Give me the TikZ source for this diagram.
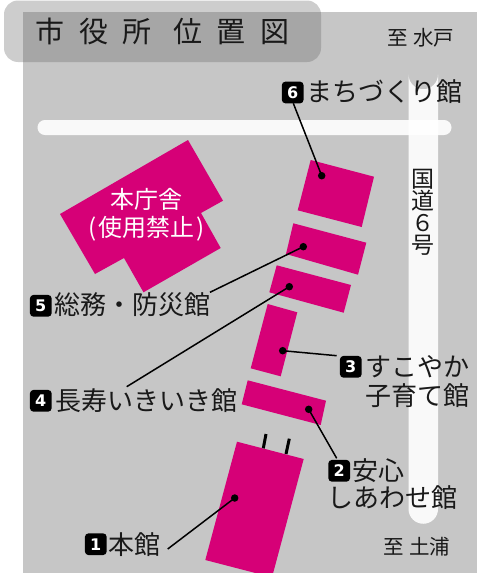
\documentclass[tikz,border=0pt]{standalone}
\usepackage{fontspec}
\newfontfamily\jpf{Noto Sans CJK JP}
\newfontfamily\numf{DejaVu Sans}[BoldFont={DejaVu Sans Bold}]
\definecolor{pinkb}{HTML}{D60077}
\definecolor{bgg}{HTML}{C6C6C6}
\tikzset{
  building/.style={fill=pinkb,draw=none},
  road/.style={fill=white,fill opacity=.9,draw=none},
  leader/.style={draw=black,line width=1.5pt},
  dot/.style={circle,fill=black,inner sep=0pt,minimum size=7.5pt},
  badge/.style={fill=black,text=white,rounded corners=3.5pt,minimum size=21.7pt,inner sep=0pt,font=\numf\bfseries\fontsize{16}{16}\selectfont},
  lab/.style={inner sep=0pt,text=black!90,anchor=west,font=\jpf\fontsize{26}{29}\selectfont},
  small/.style={inner sep=0pt,text=black!90,font=\jpf\fontsize{20.5}{20.5}\selectfont}
}
\begin{document}
\begin{tikzpicture}[x=1pt,y=-1pt]
\useasboundingbox (0,0) rectangle (477,573);
\clip (0,0) rectangle (477,573);
\fill[bgg] (22.5,12) rectangle (477,573);
% roads
\fill[road] (408.5,74.5) arc[start angle=180,end angle=0,radius=14.75] -- (438,509) arc[start angle=0,end angle=180,radius=14.75] -- cycle;
\fill[road,rounded corners=7.4pt] (37.5,120) rectangle (451.5,135);
% title band
\fill[fill=black!60,fill opacity=.33,rounded corners=14pt] (4,0.5) rectangle (321,62);
% buildings
\fill[building] (188,140)--(223,200.7)--(201,213)--(220.7,248)--(143.5,292.3)--(124,258)--(95,274)--(60,214)--cycle;
\fill[building] (310.7,160)--(374,176.7)--(361.7,227)--(297.7,210.3)--cycle;
\fill[building] (293.3,223.3)--(366.3,242.7)--(358,274.7)--(286,254)--cycle;
\fill[building] (276.7,265.3)--(351,285)--(343.7,312.7)--(269.3,292.3)--cycle;
\fill[building] (267.7,304)--(297.3,312.3)--(280.7,376.3)--(250.7,368.3)--cycle;
\fill[building] (247.7,380.3)--(326,400.7)--(320.7,425)--(241.7,404.3)--cycle;
\fill[building] (237,441.7)--(303.7,459)--(272,577.3)--(205.3,560)--cycle;
% entrance posts
\draw[line width=3pt] (266,434)--(263.3,448.3);
\draw[line width=3pt] (289.3,438.7)--(286,454);
% texts
\node[inner sep=0pt,text=black!90,font=\jpf\fontsize{29}{29}\selectfont] (title) at (162.5,31) {市\hspace{14.5pt}役\hspace{14.5pt}所\hspace{21.5pt}位\hspace{14.5pt}置\hspace{14.5pt}図};
\node[small] (mito) at (421,38) {至\hspace{5pt}水戸};
\node[small] (tsuchiura) at (417,547) {至\hspace{5pt}土浦};
\node[inner sep=0pt,text=black!90,align=center,font=\jpf\fontsize{23}{22}\selectfont] (route) at (423,212) {国\\道\\６\\号};
\node[inner sep=0pt,text=white,align=center,font=\jpf\fontsize{24}{28}\selectfont] (honcho) at (146.5,215) {本庁舎\\(\hspace{1.5pt}使用禁止\hspace{1.5pt})};
% badges and labels
\node[badge] (b6) at (292.7,92.5) {6};
\node[lab] (l6) at (306,92) {まちづくり館};
\node[badge] (b5) at (40.8,305.8) {5};
\node[lab] (l5) at (54,305) {総務・防災館};
\node[badge] (b4) at (40.8,400.8) {4};
\node[lab] (l4) at (55,401) {長寿いきいき館};
\node[badge] (b3) at (350.8,366.8) {3};
\node[lab,align=left] (l3) at (365,381.5) {すこやか\\子育て館};
\node[badge] (b2) at (339.2,470.8) {2};
\node[lab] (l2a) at (352,471) {安心};
\node[lab] (l2b) at (327.5,498) {しあわせ館};
\node[badge] (b1) at (95.8,544.2) {1};
\node[lab] (l1) at (108,545) {本館};
% leader anchors
\node[dot] (d6) at (321.7,175.7) {};
\node[dot] (d5) at (303.3,246.7) {};
\node[dot] (d4) at (289.3,286.7) {};
\node[dot] (d3) at (282.7,350.7) {};
\node[dot] (d2) at (308.7,409.3) {};
\node[dot] (d1) at (234.7,498) {};
\coordinate (e6) at (293.3,103.3);
\coordinate (e5) at (210,292.3);
\coordinate (e4) at (126.7,386.7);
\coordinate (e3) at (336.7,355.7);
\coordinate (e2) at (336.7,458.3);
\coordinate (e1) at (167.7,549);
\draw[leader] (e6)--(d6.center);
\draw[leader] (e5)--(d5.center);
\draw[leader] (e4)--(d4.center);
\draw[leader] (e3)--(d3.center);
\draw[leader] (e2)--(d2.center);
\draw[leader] (e1)--(d1.center);
\end{tikzpicture}
\end{document}
